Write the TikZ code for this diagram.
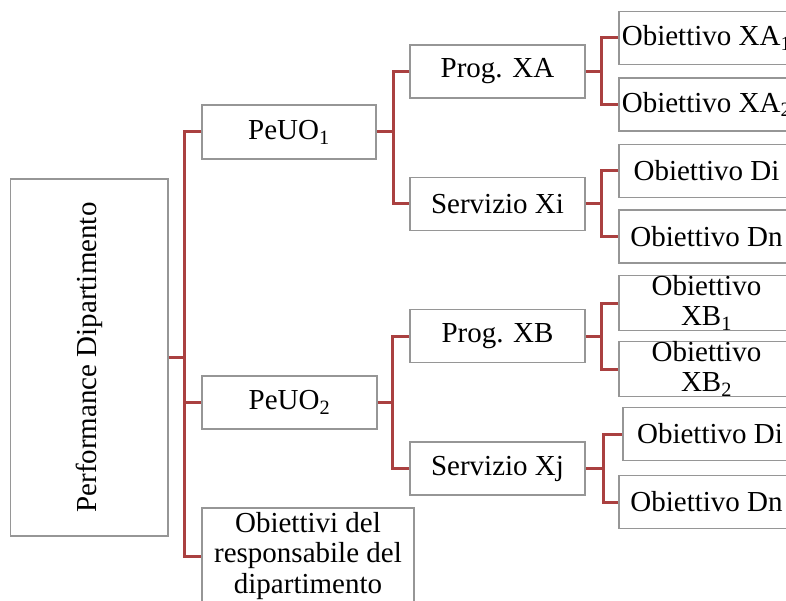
\documentclass[tikz,border=0pt]{standalone}
\usepackage{fontspec}
\setmainfont{Liberation Serif}
\definecolor{boxgray}{RGB}{150,150,150}
\definecolor{connred}{RGB}{170,64,64}
\begin{document}
\begin{tikzpicture}[x=1pt,y=-1pt,
  box/.style={draw=boxgray,line width=1.5pt,fill=white,minimum width=175pt,
    minimum height=53pt,inner sep=0pt,align=center,
    font=\fontsize{29}{30.5}\selectfont},
  conn/.style={draw=connred,line width=3pt}]
\useasboundingbox (0,0) rectangle (786,601);
\clip (0,0) rectangle (786,601);

% root box with vertical title
\node[box,minimum width=157.5pt,minimum height=357pt] (root) at (89.25,357.5) {};
\node[rotate=90,inner sep=0pt,font=\fontsize{29}{30.5}\selectfont] (roottext) at (root.center) {Performance Dipartimento};

% first level
\node[box,minimum width=174pt,minimum height=54pt] (peuo1) at (289,132) {PeUO\textsubscript{1}};
\node[box] (peuo2) at (289.5,402.5) {PeUO\textsubscript{2}};
\node[box,minimum width=212pt,minimum height=96pt] (resp) at (308,556) {Obiettivi del\\responsabile del\\dipartimento};

% second level
\node[box] (progxa) at (497.5,71.5) {Prog. XA};
\node[box] (servxi) at (497.5,204) {Servizio Xi};
\node[box] (progxb) at (497.5,336) {Prog. XB};
\node[box] (servxj) at (497.5,468.5) {Servizio Xj};

% third level (boxes run past the right edge)
\node[box] (xa1) at (706.5,38) {Obiettivo XA\textsubscript{1}};
\node[box] (xa2) at (706.5,104.5) {Obiettivo XA\textsubscript{2}};
\node[box] (di1) at (706.5,171) {Obiettivo Di};
\node[box] (dn1) at (706.5,236.5) {Obiettivo Dn};
\node[box] (xb1) at (706.5,303) {Obiettivo\\XB\textsubscript{1}};
\node[box] (xb2) at (706.5,369) {Obiettivo\\XB\textsubscript{2}};
\node[box,minimum width=174pt] (di2) at (710,434) {Obiettivo Di};
\node[box] (dn2) at (706.5,502) {Obiettivo Dn};

% junction points of the bracket connectors
\coordinate (b0) at (184,357.5);
\coordinate (b1) at (393,132);
\coordinate (b2) at (392,402.5);
\coordinate (b3) at (601,71.5);
\coordinate (b4) at (601,204);
\coordinate (b5) at (601,336);
\coordinate (b6) at (603,468.5);

\draw[conn] (root.east) -- (b0);
\draw[conn] (peuo1.west) -| (b0) |- (resp.west);
\draw[conn] (b0) |- (peuo2.west);

\draw[conn] (peuo1.east) -- (b1);
\draw[conn] (progxa.west) -| (b1) |- (servxi.west);

\draw[conn] (peuo2.east) -- (b2);
\draw[conn] (progxb.west) -| (b2) |- (servxj.west);

\draw[conn] (progxa.east) -- (b3);
\draw[conn] (xa1.west) -| (b3) |- (xa2.west);

\draw[conn] (servxi.east) -- (b4);
\draw[conn] (di1.west) -| (b4) |- (dn1.west);

\draw[conn] (progxb.east) -- (b5);
\draw[conn] (xb1.west) -| (b5) |- (xb2.west);

\draw[conn] (servxj.east) -- (b6);
\draw[conn] (di2.west) -| (b6) |- (dn2.west);
\end{tikzpicture}
\end{document}
